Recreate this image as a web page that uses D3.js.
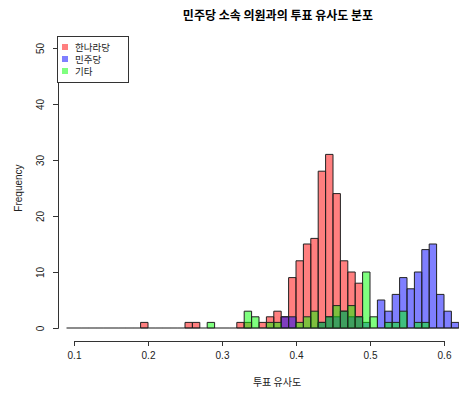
<!DOCTYPE html>
<html>
<head>
<meta charset="utf-8">
<script src="https://cdn.jsdelivr.net/npm/d3@7"></script>
<style>
  body { margin: 0; background: #fff; }
  svg { display: block; }
</style>
</head>
<body>
<div id="chart"></div>
<script>
// histogram bins, width 0.01, lower edges 0.09 ... 0.61
var binLower = [0.09, 0.10, 0.11, 0.12, 0.13, 0.14, 0.15, 0.16, 0.17, 0.18,
                0.19, 0.20, 0.21, 0.22, 0.23, 0.24, 0.25, 0.26, 0.27, 0.28,
                0.29, 0.30, 0.31, 0.32, 0.33, 0.34, 0.35, 0.36, 0.37, 0.38,
                0.39, 0.40, 0.41, 0.42, 0.43, 0.44, 0.45, 0.46, 0.47, 0.48,
                0.49, 0.50, 0.51, 0.52, 0.53, 0.54, 0.55, 0.56, 0.57, 0.58,
                0.59, 0.60, 0.61];
var binWidth = 0.01;

// counts per bin for each party
var hannaraCounts = [0,0,0,0,0,0,0,0,0,0, 1,0,0,0,0,0,1,1,0,0, 0,0,0,1,1,0,1,2,3,2,
                     9,12,15,16,28,31,24,12,10,8, 0,0,0,0,0,0,0,0,0,0, 0,0,0];
var minjuCounts   = [0,0,0,0,0,0,0,0,0,0, 0,0,0,0,0,0,0,0,0,0, 0,0,0,0,0,0,0,0,0,2,
                     2,0,0,0,1,2,2,3,2,2, 1,0,5,3,6,9,7,10,14,15, 6,3,1];
var etcCounts     = [0,0,0,0,0,0,0,0,0,0, 0,0,0,0,0,0,0,0,0,1, 0,0,0,0,3,2,0,1,1,0,
                     0,1,2,3,1,2,4,3,4,2, 10,2,0,1,1,3,0,1,1,0, 0,0,0];

var seriesNames = ["한나라당", "민주당", "기타"];
var seriesColors = ["rgba(255,0,0,0.5)", "rgba(0,0,255,0.5)", "rgba(0,255,0,0.5)"];
var xTicks = [0.1, 0.2, 0.3, 0.4, 0.5, 0.6];
var yTicks = [0, 10, 20, 30, 40, 50];

var svgWidth = 459, svgHeight = 393;
var korFont = "'Noto Sans CJK KR', 'Noto Sans', sans-serif";
var latFont = "'Liberation Sans', Arial, sans-serif";

var svg = d3.select("#chart").append("svg")
    .attr("width", svgWidth)
    .attr("height", svgHeight);

var x = d3.scaleLinear().domain([0.1, 0.6]).range([74, 444]);
var y = d3.scaleLinear().domain([0, 50]).range([328, 48]);

// bars, drawn in order so the alpha fills overlap
var allCounts = [hannaraCounts, minjuCounts, etcCounts];
allCounts.forEach(function(counts, s) {
    svg.append("g").selectAll("path")
        .data(counts)
        .enter()
        .append("path")
        .attr("d", function(c, i) {
            var x0 = x(binLower[i]), x1 = x(binLower[i] + binWidth);
            var y0 = y(0), y1 = y(c);
            return "M" + x0 + "," + y0 + "H" + x1 + "V" + y1 + "H" + x0 + "Z";
        })
        .attr("fill", seriesColors[s])
        .attr("stroke", "#222")
        .attr("stroke-opacity", function(c) { return c === 0 ? 0.22 : 1; })
        .attr("stroke-width", 1);
});

// x axis
var xAxis = svg.append("g")
    .attr("transform", "translate(0,341)")
    .call(d3.axisBottom(x).tickValues(xTicks).tickSizeOuter(0).tickSize(5).tickPadding(6)
        .tickFormat(d3.format(".1f")));
xAxis.selectAll("text").style("font", "10px " + latFont).attr("fill", "#222");
xAxis.selectAll("path, line").attr("stroke", "#333");

// y axis, labels turned like R's default
var yAxis = svg.append("g")
    .attr("transform", "translate(58,0)")
    .call(d3.axisLeft(y).tickValues(yTicks).tickSizeOuter(0).tickSize(5));
yAxis.selectAll("path, line").attr("stroke", "#333");
yAxis.selectAll(".tick text")
    .style("font", "10px " + latFont)
    .attr("fill", "#222")
    .attr("text-anchor", "middle")
    .attr("x", 0).attr("y", 0).attr("dy", 0)
    .attr("transform", "translate(-18,0) rotate(-90)")
    .attr("dominant-baseline", "central");

// titles
svg.append("text")
    .attr("x", 278).attr("y", 20)
    .attr("text-anchor", "middle")
    .style("font", "bold 12px " + korFont)
    .text("민주당 소속 의원과의 투표 유사도 분포");

svg.append("text")
    .attr("x", 277).attr("y", 386)
    .attr("text-anchor", "middle")
    .style("font", "10px " + korFont)
    .attr("fill", "#222")
    .text("투표 유사도");

svg.append("text")
    .attr("transform", "translate(22,188) rotate(-90)")
    .attr("text-anchor", "middle")
    .style("font", "10px " + latFont)
    .attr("fill", "#222")
    .text("Frequency");

// legend
var legend = svg.append("g");
legend.append("rect")
    .attr("x", 57.5).attr("y", 36.5)
    .attr("width", 71).attr("height", 46)
    .attr("fill", "#fff")
    .attr("stroke", "#333");
var rows = legend.selectAll("g.row")
    .data(seriesNames)
    .enter()
    .append("g")
    .attr("class", "row")
    .attr("transform", function(d, i) { return "translate(0," + (47 + i * 12) + ")"; });
rows.append("rect")
    .attr("x", 62).attr("y", -3)
    .attr("width", 6).attr("height", 6)
    .attr("fill", function(d, i) { return seriesColors[i]; });
rows.append("text")
    .attr("x", 75).attr("y", 0)
    .attr("dominant-baseline", "central")
    .style("font", "9.5px " + korFont)
    .attr("fill", "#222")
    .text(function(d) { return d; });
</script>
</body>
</html>
